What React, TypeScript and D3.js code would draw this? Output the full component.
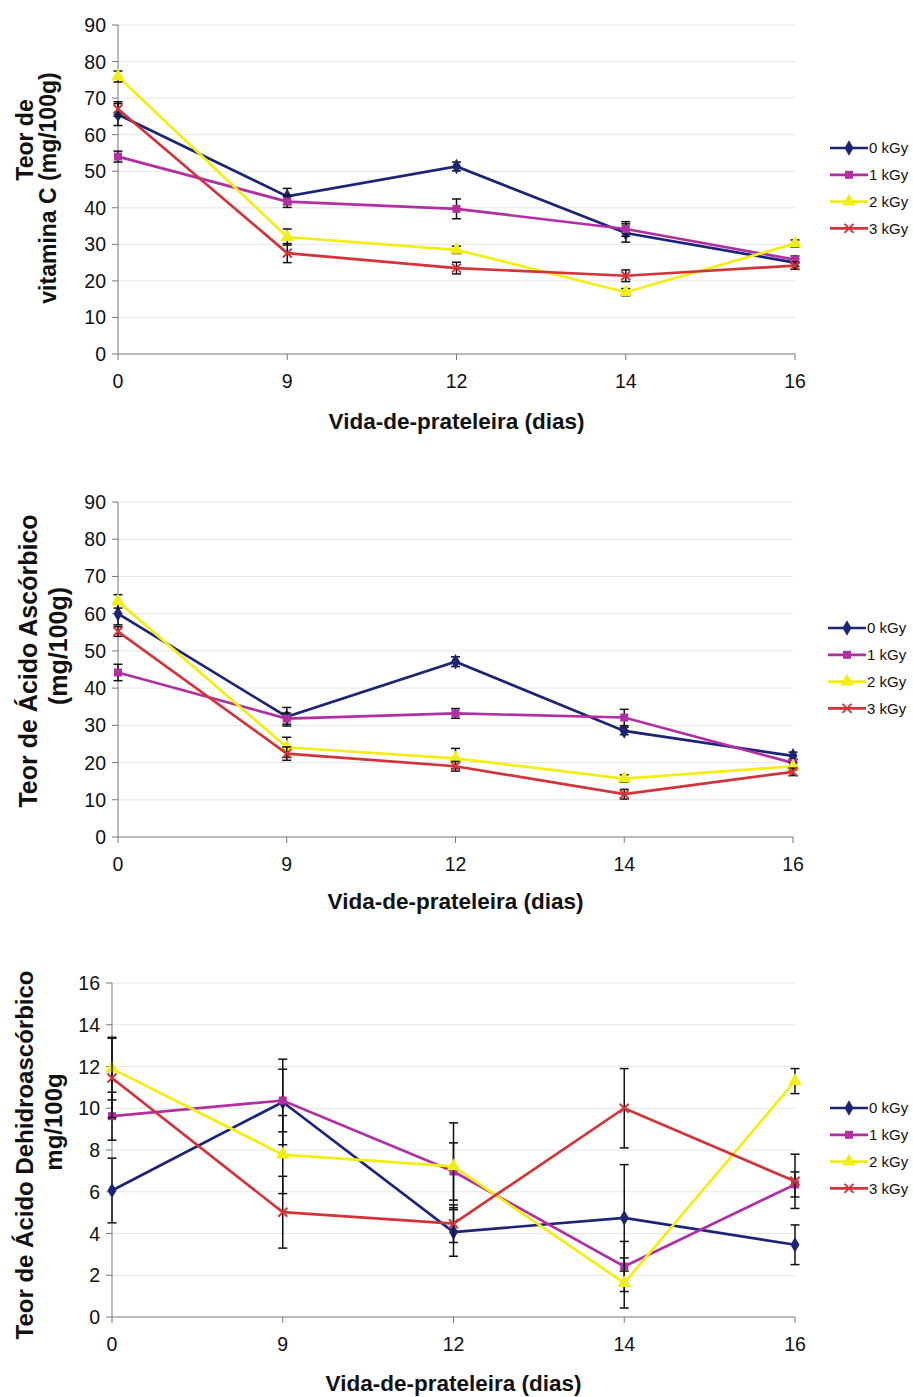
import React from "react";
import * as d3 from "d3";

const days = ["0", "9", "12", "14", "16"];
const doses = ["0 kGy", "1 kGy", "2 kGy", "3 kGy"];
const colors = ["#1c2478", "#b22ea3", "#f2ee12", "#d1353a"];

// Teor de vitamina C
const vitC = [
  [65.5, 43.1, 51.3, 33.1, 25.0],
  [54.0, 41.7, 39.7, 34.2, 25.8],
  [75.9, 32.0, 28.5, 16.9, 30.2],
  [67.0, 27.6, 23.5, 21.4, 24.2],
];
const vitCErr = [
  [3.0, 2.2, 1.2, 2.5, 1.0],
  [1.5, 1.6, 2.7, 2.0, 1.0],
  [1.5, 2.2, 1.0, 1.0, 1.0],
  [2.0, 2.6, 1.6, 1.6, 1.0],
];

// Teor de acido ascorbico
const asc = [
  [60.0, 32.3, 47.1, 28.5, 21.8],
  [44.2, 31.8, 33.2, 32.1, 19.9],
  [63.3, 24.1, 21.1, 15.7, 19.0],
  [55.2, 22.4, 19.0, 11.5, 17.5],
];
const ascErr = [
  [3.0, 2.5, 1.3, 1.0, 1.0],
  [2.2, 1.5, 1.3, 2.2, 1.0],
  [1.8, 2.7, 2.7, 1.0, 1.0],
  [1.3, 1.8, 1.3, 1.3, 1.0],
];

// Teor de acido dehidroascorbico
const dha = [
  [6.06, 10.3, 4.07, 4.75, 3.46],
  [9.62, 10.37, 6.97, 2.42, 6.35],
  [11.9, 7.78, 7.22, 1.63, 11.3],
  [11.45, 5.02, 4.47, 10.0, 6.5],
];
const dhaErr = [
  [1.55, 2.05, 1.16, 2.55, 0.95],
  [1.15, 1.5, 1.37, 1.2, 0.6],
  [1.5, 1.87, 2.08, 1.2, 0.6],
  [1.9, 1.72, 0.9, 1.9, 1.3],
];

const vitCTicks = [0, 10, 20, 30, 40, 50, 60, 70, 80, 90];
const dhaTicks = [0, 2, 4, 6, 8, 10, 12, 14, 16];

const font = "Arial, 'Liberation Sans', Helvetica, sans-serif";

function Marker({ i, x, y }: { i: number; x: number; y: number }) {
  const c = colors[i];
  if (i === 3) {
    const s = 4.5;
    return (
      <path
        d={`M${x - s},${y - s}L${x + s},${y + s}M${x + s},${y - s}L${x - s},${y + s}`}
        stroke={c}
        strokeWidth={2}
        fill="none"
      />
    );
  }
  const type = i === 0 ? d3.symbolDiamond : i === 1 ? d3.symbolSquare : d3.symbolTriangle;
  const size = i === 0 ? 70 : i === 1 ? 64 : 80;
  return <path d={d3.symbol().type(type).size(size)() || ""} transform={`translate(${x},${y})`} fill={c} />;
}

type ChartProps = {
  top: number;
  bottom: number;
  left: number;
  right: number;
  ymax: number;
  ticks: number[];
  values: number[][];
  errors: number[][];
  titleLines: string[];
  titleX: number[];
  titleY: number[];
  titleSize: number;
  xTitleY: number;
  legendX: number;
  legendY: number;
};

function Chart(p: ChartProps) {
  const x = d3.scalePoint<string>().domain(days).range([p.left, p.right]);
  const y = d3.scaleLinear().domain([0, p.ymax]).range([p.bottom, p.top]);
  const line = d3
    .line<number>()
    .x((_, j) => x(days[j]) as number)
    .y((d) => y(d));
  const bottom = y(0);
  return (
    <g fontFamily={font}>
      {p.ticks.map((t) => (
        <g key={t}>
          {t > 0 && <line x1={p.left} x2={p.right} y1={y(t)} y2={y(t)} stroke="#e6e6e6" strokeWidth={1} />}
          <line x1={p.left - 6} x2={p.left} y1={y(t)} y2={y(t)} stroke="#777" strokeWidth={1} />
          <text x={p.left - 12} y={y(t)} dy="0.36em" textAnchor="end" fontSize={19.5} fill="#111">
            {t}
          </text>
        </g>
      ))}
      <line x1={p.left} x2={p.left} y1={p.top} y2={bottom} stroke="#777" strokeWidth={1} />
      <line x1={p.left} x2={p.right} y1={bottom} y2={bottom} stroke="#777" strokeWidth={1} />
      {days.map((d) => (
        <g key={d}>
          <line x1={x(d)} x2={x(d)} y1={bottom} y2={bottom + 6} stroke="#777" strokeWidth={1} />
          <text x={x(d)} y={bottom + 27} dy="0.36em" textAnchor="middle" fontSize={19.5} fill="#111">
            {d}
          </text>
        </g>
      ))}
      <text
        x={(p.left + p.right) / 2}
        y={p.xTitleY}
        dy="0.36em"
        textAnchor="middle"
        fontSize={22.5}
        fontWeight="bold"
        fill="#111"
      >
        Vida-de-prateleira (dias)
      </text>
      {p.titleLines.map((t, k) => (
        <text
          key={t}
          transform={`translate(${p.titleX[k]},${p.titleY[k]}) rotate(-90)`}
          textAnchor="middle"
          fontSize={p.titleSize}
          fontWeight="bold"
          fill="#111"
        >
          {t}
        </text>
      ))}
      {p.values.map((vals, i) => (
        <g key={i}>
          <path d={line(vals) || ""} fill="none" stroke={colors[i]} strokeWidth={2.7} />
          {vals.map((v, j) => {
            const cx = x(days[j]) as number;
            const e = p.errors[i][j];
            return (
              <g key={j} stroke="#111" strokeWidth={1.5}>
                <line x1={cx} x2={cx} y1={y(v + e)} y2={y(v - e)} />
                <line x1={cx - 4.5} x2={cx + 4.5} y1={y(v + e)} y2={y(v + e)} />
                <line x1={cx - 4.5} x2={cx + 4.5} y1={y(v - e)} y2={y(v - e)} />
              </g>
            );
          })}
          {vals.map((v, j) => (
            <Marker key={j} i={i} x={x(days[j]) as number} y={y(v)} />
          ))}
        </g>
      ))}
      {doses.map((d, i) => {
        const ly = p.legendY + i * 26.8;
        return (
          <g key={d}>
            <line x1={p.legendX} x2={p.legendX + 38} y1={ly} y2={ly} stroke={colors[i]} strokeWidth={2.7} />
            <Marker i={i} x={p.legendX + 19} y={ly} />
            <text x={p.legendX + 39} y={ly} dy="0.36em" fontSize={15} fill="#111">
              {d}
            </text>
          </g>
        );
      })}
    </g>
  );
}

export default function App() {
  return (
    <svg width={913} height={1397} style={{ position: "absolute", left: 0, top: 0, display: "block" }}>
      <Chart
        top={25}
        bottom={354}
        left={118}
        right={795}
        ymax={90}
        ticks={vitCTicks}
        values={vitC}
        errors={vitCErr}
        titleLines={["Teor de", "vitamina C (mg/100g)"]}
        titleX={[33, 56]}
        titleY={[140, 188]}
        titleSize={23}
        xTitleY={421}
        legendX={830}
        legendY={148}
      />
      <Chart
        top={502}
        bottom={837}
        left={118}
        right={793}
        ymax={90}
        ticks={vitCTicks}
        values={asc}
        errors={ascErr}
        titleLines={["Teor de Ácido Ascórbico", "(mg/100g)"]}
        titleX={[37, 67]}
        titleY={[661, 646]}
        titleSize={25}
        xTitleY={901}
        legendX={828}
        legendY={628}
      />
      <Chart
        top={983}
        bottom={1317}
        left={112}
        right={795}
        ymax={16}
        ticks={dhaTicks}
        values={dha}
        errors={dhaErr}
        titleLines={["Teor de Ácido Dehidroascórbico", "mg/100g"]}
        titleX={[33, 62]}
        titleY={[1155, 1122]}
        titleSize={24}
        xTitleY={1383}
        legendX={830}
        legendY={1108}
      />
    </svg>
  );
}
